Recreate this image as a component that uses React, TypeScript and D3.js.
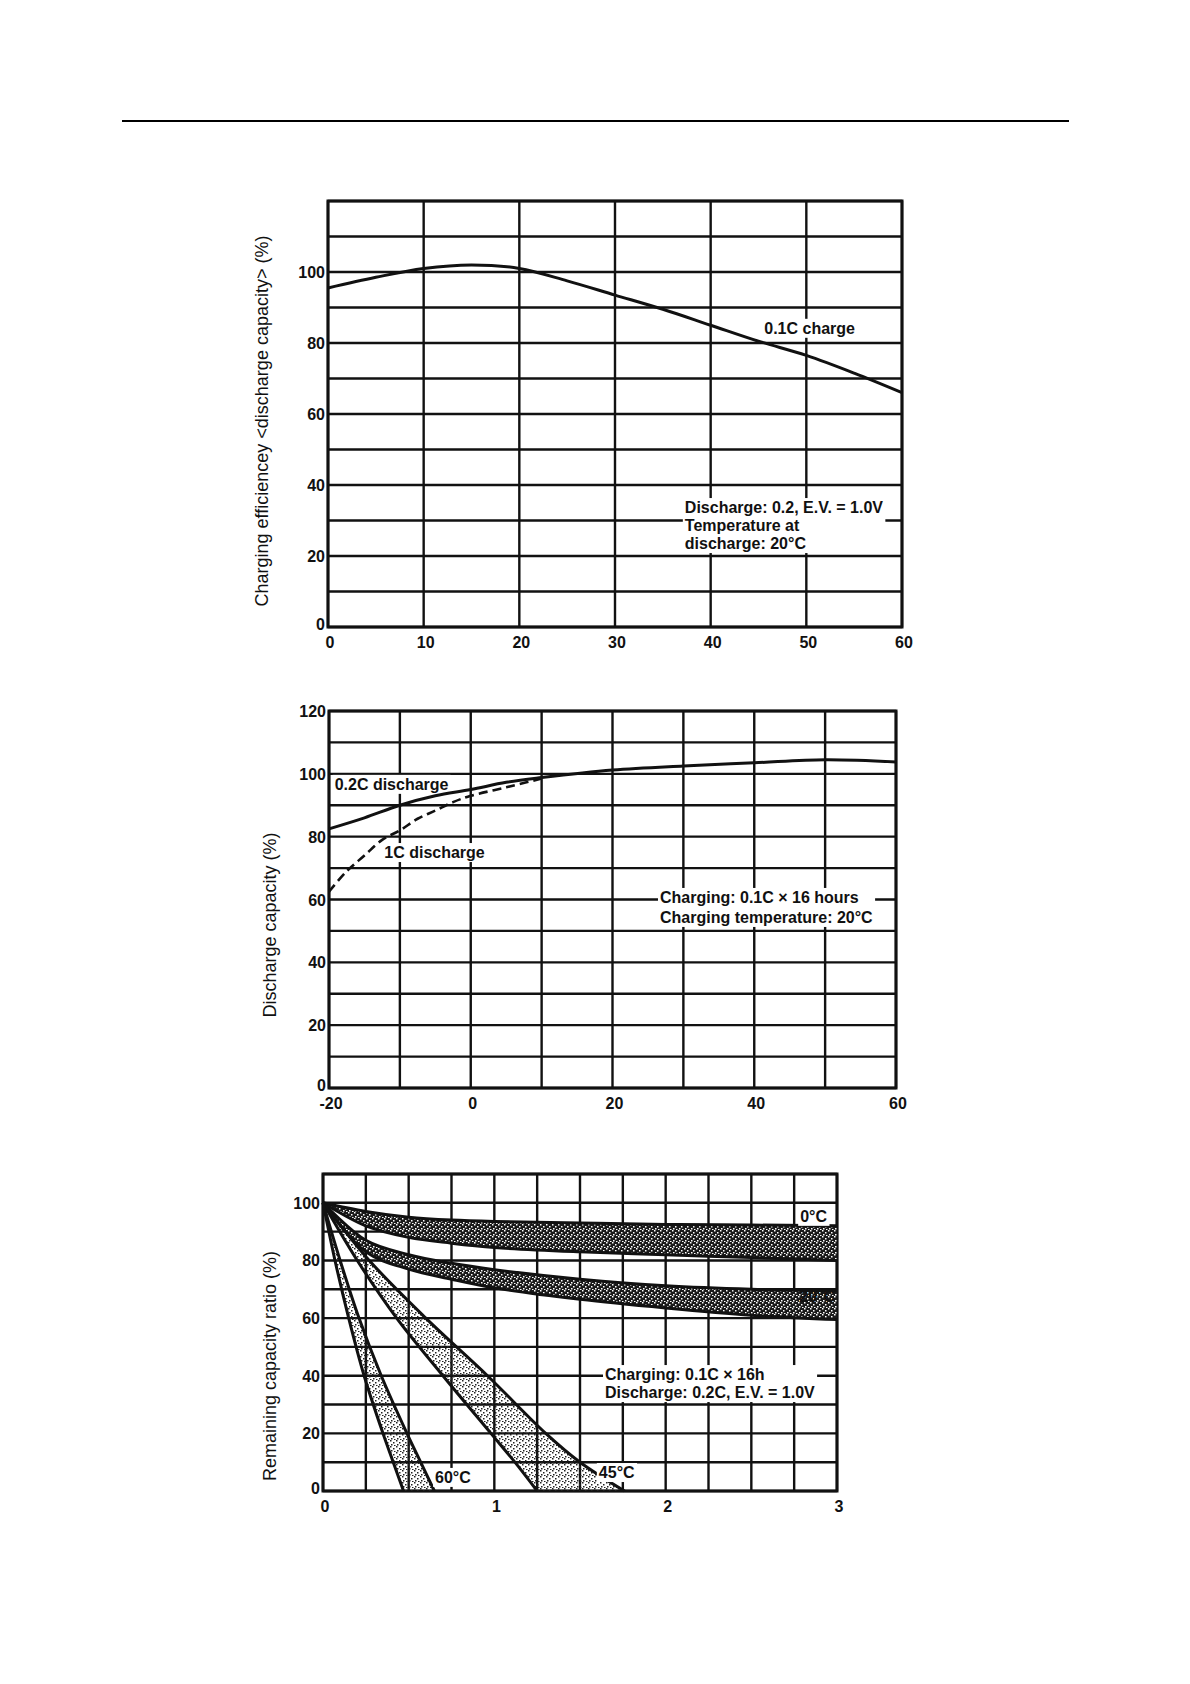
import React, { useEffect, useRef } from "react";
import * as d3 from "d3";

// --- chart 1 : charging efficiency vs charge temperature
const effTemps = [0, 5, 10, 15, 20, 25, 30, 35, 40, 45, 50, 55, 60];
const eff01C = [95.5, 98.5, 101, 102, 101, 97.5, 93.5, 89.5, 85, 80.5, 76.5, 71.5, 66];
const effXTicks = [0, 10, 20, 30, 40, 50, 60];
const effYTicks = [0, 20, 40, 60, 80, 100];

// --- chart 2 : discharge capacity vs discharge temperature
const disTemps02C = [-20, -15, -10, -5, 0, 5, 10, 20, 30, 40, 50, 60];
const cap02C = [82.5, 86, 90, 93, 95, 97.3, 98.8, 101.2, 102.5, 103.5, 104.5, 103.8];
const disTemps1C = [-20, -17.5, -15, -12.5, -10, -7.5, -5, -2.5, 0, 5, 10];
const cap1C = [62.5, 69, 74, 79, 82, 85.7, 88.3, 91, 93, 95.7, 98.5];
const disXTicks = [-20, 0, 20, 40, 60];
const disYTicks = [0, 20, 40, 60, 80, 100, 120];

// --- chart 3 : remaining capacity vs storage period
const months = [0, 0.25, 0.5, 0.75, 1, 1.5, 2, 2.5, 3];
const r0Upper = [100, 97, 95, 94, 93.5, 93, 92.5, 92.3, 92];
const r0Lower = [100, 92, 88, 86, 84.5, 83, 82, 81, 80];
const r20Upper = [100, 87, 82, 79, 76.8, 73.5, 71.2, 70, 69.5];
const r20Lower = [100, 83, 77, 73.5, 70.5, 66.5, 63.5, 61, 59.5];
// hot curves are read as months at each capacity level
const remLevels = [100, 80, 60, 40, 20, 10, 0];
const r45Left = [0, 0.2, 0.43, 0.7, 0.98, 1.12, 1.25];
const r45Right = [0, 0.27, 0.6, 0.96, 1.3, 1.5, 1.76];
const r60Left = [0, 0.07, 0.15, 0.24, 0.35, 0.41, 0.47];
const r60Right = [0, 0.1, 0.21, 0.34, 0.49, 0.57, 0.65];
const remXTicks = [0, 1, 2, 3];
const remYTicks = [0, 20, 40, 60, 80, 100];

const FONT = "'Liberation Sans', Arial, sans-serif";
const INK = "#111";

type Lin = d3.ScaleLinear<number, number>;

function frame(g: any, x: Lin, y: Lin, xStep: number, yStep: number) {
  const [x0, x1] = x.domain();
  const [y0, y1] = y.domain();
  const xs = d3.range(x0, x1 + xStep / 2, xStep);
  const ys = d3.range(y0, y1 + yStep / 2, yStep);
  g.selectAll(null).data(ys).enter().append("line")
    .attr("x1", x(x0)).attr("x2", x(x1))
    .attr("y1", (d: number) => y(d)).attr("y2", (d: number) => y(d))
    .attr("stroke", INK).attr("stroke-width", 2.4);
  g.selectAll(null).data(xs).enter().append("line")
    .attr("x1", (d: number) => x(d)).attr("x2", (d: number) => x(d))
    .attr("y1", y(y0)).attr("y2", y(y1))
    .attr("stroke", INK).attr("stroke-width", 2.4);
  g.append("rect")
    .attr("x", x(x0)).attr("y", y(y1))
    .attr("width", x(x1) - x(x0)).attr("height", y(y0) - y(y1))
    .attr("fill", "none").attr("stroke", INK).attr("stroke-width", 3);
}

function ticks(g: any, x: Lin, y: Lin, xt: number[], yt: number[]) {
  const [y0] = y.domain();
  const [x0] = x.domain();
  g.selectAll(null).data(xt).enter().append("text")
    .attr("x", (d: number) => x(d) + 2).attr("y", y(y0) + 21)
    .attr("text-anchor", "middle")
    .style("font", `bold 16px ${FONT}`).attr("fill", INK)
    .text((d: number) => String(d));
  g.selectAll(null).data(yt).enter().append("text")
    .attr("x", x(x0) - 3).attr("y", (d: number) => y(d) + (d === y0 ? 3 : 6))
    .attr("text-anchor", "end")
    .style("font", `bold 16px ${FONT}`).attr("fill", INK)
    .text((d: number) => String(d));
}

function note(g: any, lines: string[], x: number, y: number, lineH = 18, size = 16) {
  const t = g.append("g");
  lines.forEach((s, i) => {
    t.append("text").attr("x", x).attr("y", y + i * lineH)
      .style("font", `bold ${size}px ${FONT}`).attr("fill", INK).text(s);
  });
  const bb = (t.node() as SVGGElement).getBBox();
  t.insert("rect", ":first-child")
    .attr("x", bb.x - 2).attr("y", bb.y - 1)
    .attr("width", bb.width + 4).attr("height", bb.height + 2)
    .attr("fill", "#fff");
}

function yTitle(svg: any, text: string, x: number, y: number) {
  svg.append("text")
    .attr("transform", `translate(${x},${y}) rotate(-90)`)
    .attr("text-anchor", "middle")
    .style("font", `18px ${FONT}`).attr("fill", INK)
    .text(text);
}

export default function App() {
  const svgRef = useRef<SVGSVGElement | null>(null);

  useEffect(() => {
    if (!svgRef.current) return;
    const svg = d3.select(svgRef.current);
    svg.selectAll("*").remove();

    const defs = svg.append("defs");
    const heavy = defs.append("pattern").attr("id", "heavy")
      .attr("width", 6).attr("height", 6).attr("patternUnits", "userSpaceOnUse");
    heavy.append("rect").attr("width", 6).attr("height", 6).attr("fill", "#1a1a1a");
    [[0, 0], [3, 2], [1, 4], [4, 5]].forEach(([a, b]) =>
      heavy.append("rect").attr("x", a).attr("y", b).attr("width", 1.5).attr("height", 1.5).attr("fill", "#fff"));
    const light = defs.append("pattern").attr("id", "light")
      .attr("width", 6).attr("height", 6).attr("patternUnits", "userSpaceOnUse");
    [[0, 0], [3, 2], [1, 4], [4, 5]].forEach(([a, b]) =>
      light.append("rect").attr("x", a).attr("y", b).attr("width", 1.5).attr("height", 1.5).attr("fill", "#222"));

    // top rule
    svg.append("line").attr("x1", 122).attr("x2", 1069).attr("y1", 121).attr("y2", 121)
      .attr("stroke", "#000").attr("stroke-width", 2);

    // ===== chart 1
    {
      const x = d3.scaleLinear().domain([0, 60]).range([328, 902]);
      const y = d3.scaleLinear().domain([0, 120]).range([627, 201]);
      const g = svg.append("g");
      frame(g, x, y, 10, 10);
      ticks(g, x, y, effXTicks, effYTicks);
      const line = d3.line<number>().x((_, i) => x(effTemps[i])).y(d => y(d)).curve(d3.curveCatmullRom);
      g.append("path").attr("d", line(eff01C)).attr("fill", "none").attr("stroke", INK).attr("stroke-width", 3);
      note(g, ["0.1C charge"], x(45.6), y(84) + 5);
      note(g, ["Discharge: 0.2, E.V. = 1.0V", "Temperature at", "discharge: 20°C"], x(37.3), y(32.1));
      yTitle(svg, "Charging efficiencey <discharge capacity> (%)", 268, 421);
    }

    // ===== chart 2
    {
      const x = d3.scaleLinear().domain([-20, 60]).range([329, 896]);
      const y = d3.scaleLinear().domain([0, 120]).range([1088, 711]);
      const g = svg.append("g");
      frame(g, x, y, 10, 10);
      ticks(g, x, y, disXTicks, disYTicks);
      const solid = d3.line<number>().x((_, i) => x(disTemps02C[i])).y(d => y(d)).curve(d3.curveCatmullRom);
      const dashed = d3.line<number>().x((_, i) => x(disTemps1C[i])).y(d => y(d)).curve(d3.curveCatmullRom);
      g.append("path").attr("d", dashed(cap1C)).attr("fill", "none").attr("stroke", INK)
        .attr("stroke-width", 2.6).attr("stroke-dasharray", "9 5");
      note(g, ["0.2C discharge"], x(-19.2), y(94.9));
      note(g, ["1C discharge"], x(-12.2), y(73.2));
      g.append("path").attr("d", solid(cap02C)).attr("fill", "none").attr("stroke", INK).attr("stroke-width", 3);
      note(g, ["Charging: 0.1C × 16 hours", "Charging temperature: 20°C"], x(26.7), y(58.9), 20);
      yTitle(svg, "Discharge capacity (%)", 276, 925);
    }

    // ===== chart 3
    {
      const x = d3.scaleLinear().domain([0, 3]).range([323, 837]);
      const y = d3.scaleLinear().domain([0, 110]).range([1491, 1174]);
      const g = svg.append("g");
      frame(g, x, y, 0.25, 10);
      ticks(g, x, y, remXTicks, remYTicks);

      const bandX = (up: number[], lo: number[], fill: string) => {
        const area = d3.area<number>().x((_, i) => x(months[i])).y0((_, i) => y(lo[i])).y1(d => y(d)).curve(d3.curveCatmullRom);
        g.append("path").attr("d", area(up)).attr("fill", fill);
        const ln = d3.line<number>().x((_, i) => x(months[i])).y(d => y(d)).curve(d3.curveCatmullRom);
        [up, lo].forEach(s => g.append("path").attr("d", ln(s)).attr("fill", "none").attr("stroke", INK).attr("stroke-width", 3));
      };
      const bandY = (le: number[], ri: number[], fill: string) => {
        const area = d3.area<number>().y((_, i) => y(remLevels[i])).x0(d => x(d)).x1((_, i) => x(ri[i])).curve(d3.curveCatmullRom);
        g.append("path").attr("d", area(le)).attr("fill", fill);
        const ln = d3.line<number>().y((_, i) => y(remLevels[i])).x(d => x(d)).curve(d3.curveCatmullRom);
        [le, ri].forEach(s => g.append("path").attr("d", ln(s)).attr("fill", "none").attr("stroke", INK).attr("stroke-width", 3));
      };
      bandX(r0Upper, r0Lower, "url(#heavy)");
      bandX(r20Upper, r20Lower, "url(#heavy)");
      bandY(r45Left, r45Right, "url(#light)");
      bandY(r60Left, r60Right, "url(#light)");

      note(g, ["0°C"], x(2.785), y(93.4));
      g.append("text").attr("x", x(2.78)).attr("y", y(65.5))
        .style("font", `bold 16px ${FONT}`).attr("fill", INK).text("20°C");
      note(g, ["60°C"], x(0.654), y(2.8));
      note(g, ["45°C"], x(1.61), y(4.5));
      note(g, ["Charging: 0.1C × 16h", "Discharge: 0.2C, E.V. = 1.0V"], x(1.646), y(38.5), 18);
      yTitle(svg, "Remaining capacity ratio (%)", 276, 1366);
    }
  }, []);

  return (
    <svg ref={svgRef} width={1190} height={1684}
      style={{ position: "absolute", left: 0, top: 0, background: "#fff" }} />
  );
}
